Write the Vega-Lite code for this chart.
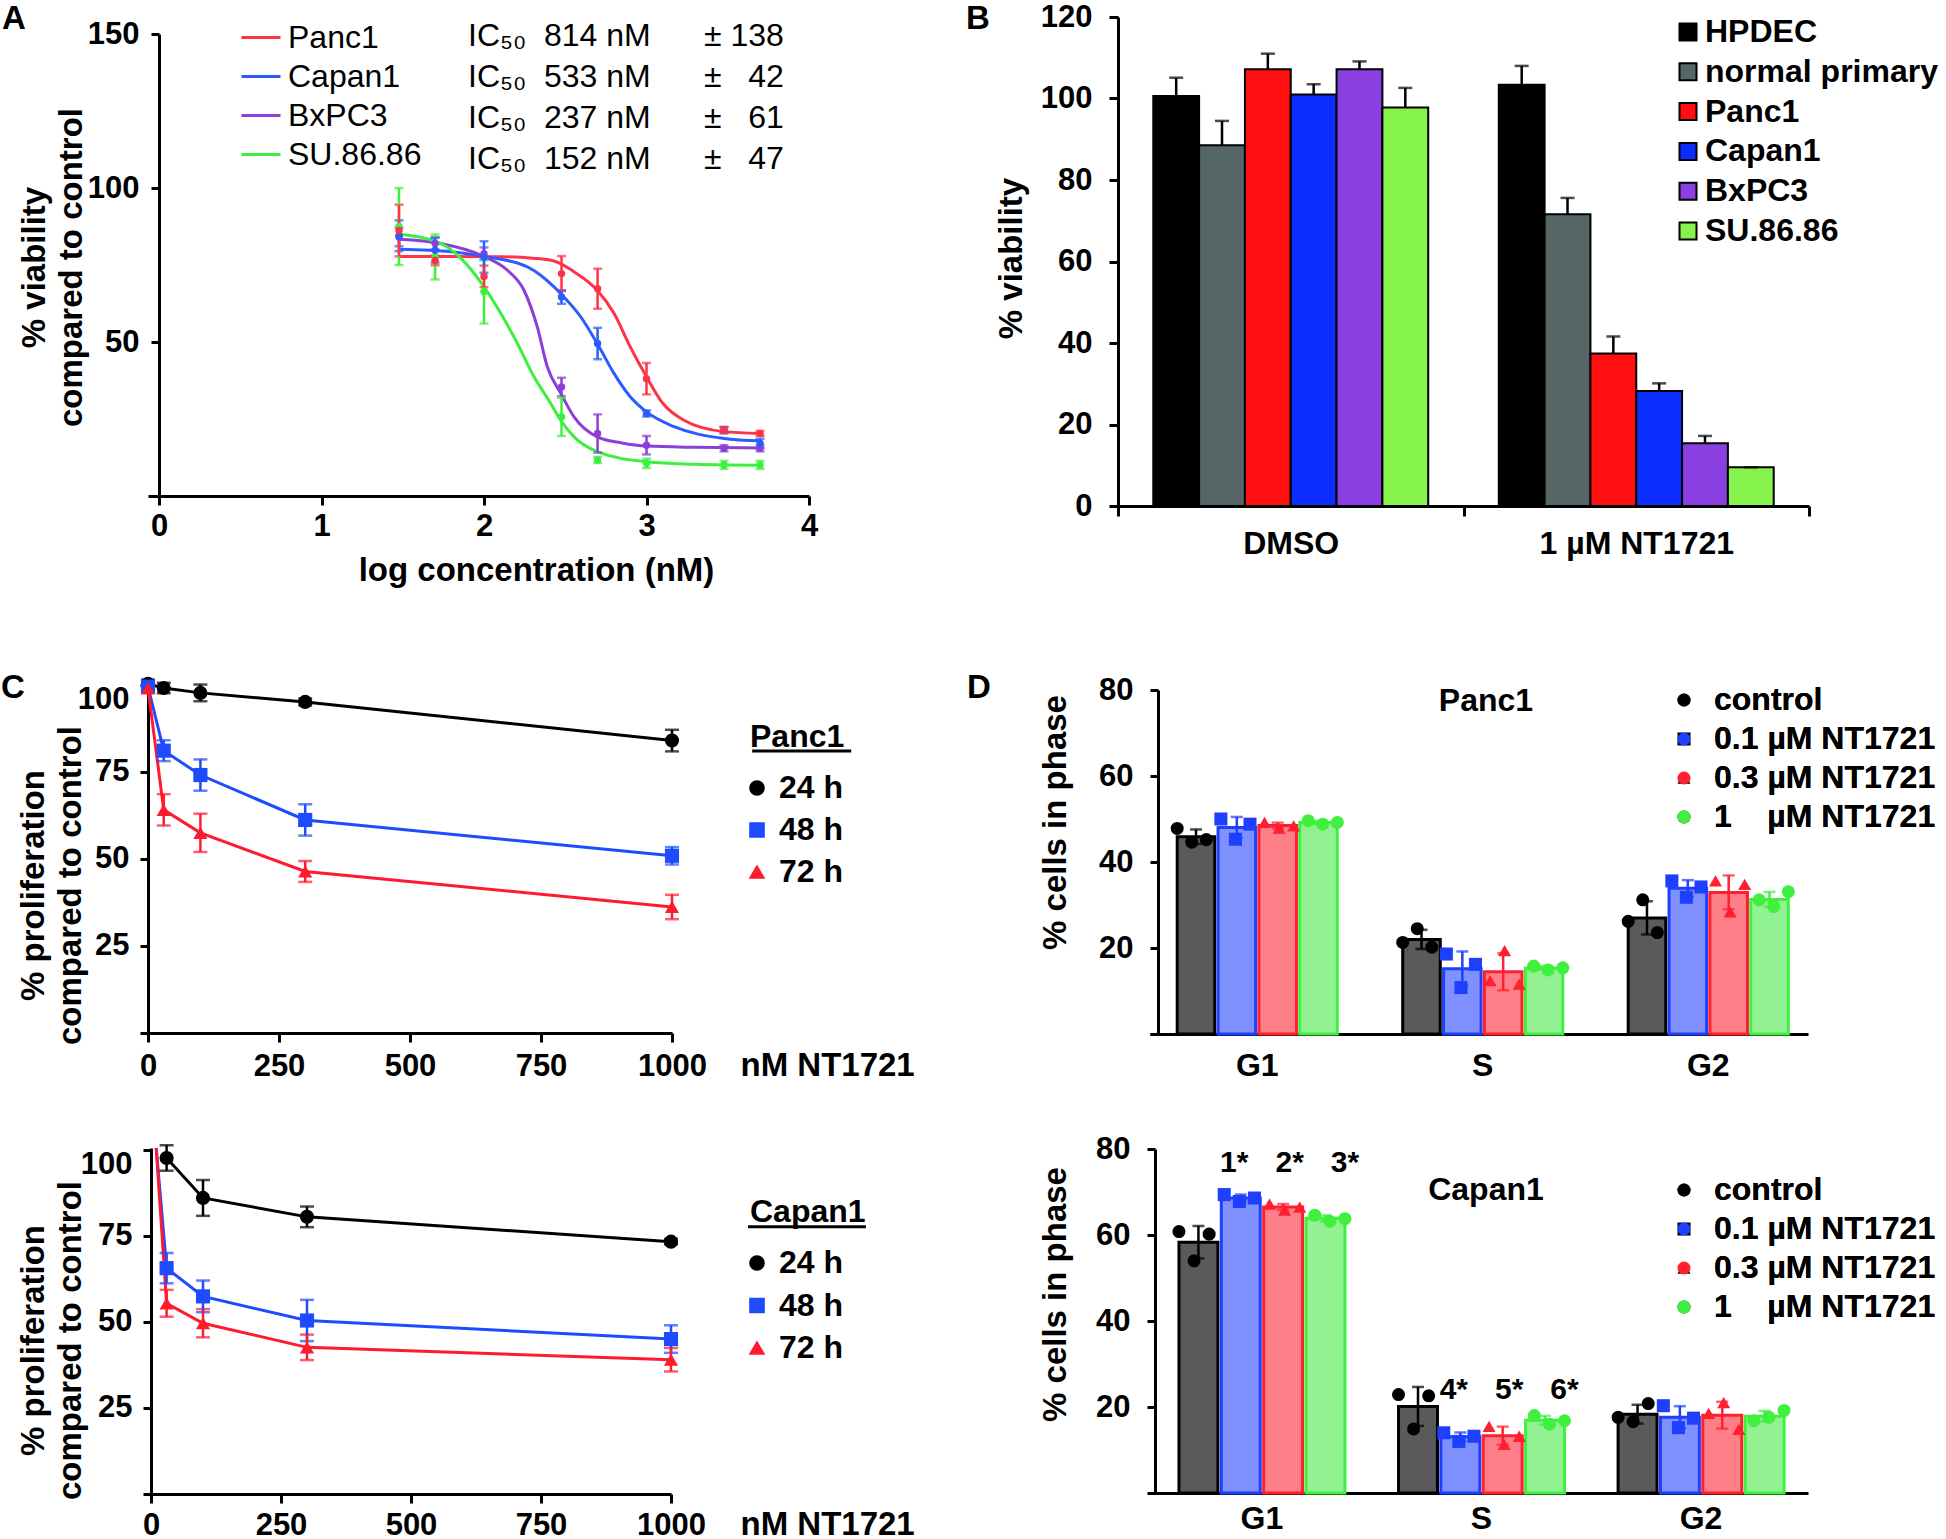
{
"$schema":"https://vega.github.io/schema/vega-lite/v6.json",
"padding":0,
"background":"white",
"columns":4,
"align":"each",
"bounds":"flush",
"spacing":0,
"config":{
 "font":"Liberation Sans",
 "view":{"stroke":null},
 "axis":{"labelFontSize":31,"labelFontWeight":"bold","labelColor":"black","titleFontSize":33,"titleFontWeight":"bold","titleColor":"black","domainColor":"black","domainWidth":3,"tickColor":"black","tickWidth":3,"tickSize":9,"grid":false,"labelOverlap":false,"labelFlush":false,"labelLimit":400},
 "legend":{"labelFontSize":32,"labelFontWeight":"bold","labelColor":"black","titleFontSize":32,"titleFontWeight":"bold","titleColor":"black","padding":0,"labelLimit":500},
 "title":{"fontSize":33,"fontWeight":"bold","color":"black"}
},
"resolve":{"scale":{"color":"independent","shape":"independent","opacity":"independent","fill":"independent","stroke":"independent","xOffset":"independent"}},
"concat":[
 {"width":148,"height":17,"data":{"values":[]},"mark":"point","encoding":{}},
 {"width":10,"height":17,"data":{"values":[]},"mark":"point","encoding":{}},
 {"width":309,"height":17,"data":{"values":[]},"mark":"point","encoding":{}},
 {"width":10,"height":17,"data":{"values":[]},"mark":"point","encoding":{}},

 {"width":148,"height":489,"title":{"text":"A","anchor":"start","frame":"group","dx":2,"offset":-44.5,"baseline":"alphabetic"},"data":{"values":[]},"mark":"point","encoding":{}},
 {"width":661,"height":479,
  "layer":[
   {"data":{"values":[
    {"s":"Panc1","x":1.477,"y":77.8},{"s":"Panc1","x":1.8,"y":77.8},{"s":"Panc1","x":2.1,"y":77.7},{"s":"Panc1","x":2.3,"y":77.2},{"s":"Panc1","x":2.431,"y":76.3},{"s":"Panc1","x":2.554,"y":72.8},{"s":"Panc1","x":2.697,"y":66.8},{"s":"Panc1","x":2.8,"y":59.3},{"s":"Panc1","x":2.9,"y":48.4},{"s":"Panc1","x":3.0,"y":38.7},{"s":"Panc1","x":3.1,"y":30.1},{"s":"Panc1","x":3.23,"y":24.6},{"s":"Panc1","x":3.477,"y":20.9},{"s":"Panc1","x":3.699,"y":20.3},
    {"s":"Capan1","x":1.477,"y":80.1},{"s":"Capan1","x":1.8,"y":79.3},{"s":"Capan1","x":2.0,"y":77.8},{"s":"Capan1","x":2.267,"y":74.4},{"s":"Capan1","x":2.431,"y":67.9},{"s":"Capan1","x":2.472,"y":65.7},{"s":"Capan1","x":2.595,"y":58.2},{"s":"Capan1","x":2.697,"y":49.5},{"s":"Capan1","x":2.8,"y":39.8},{"s":"Capan1","x":2.9,"y":32.2},{"s":"Capan1","x":3.0,"y":27.3},{"s":"Capan1","x":3.17,"y":22.5},{"s":"Capan1","x":3.477,"y":18.7},{"s":"Capan1","x":3.699,"y":17.9},
    {"s":"BxPC3","x":1.477,"y":83.4},{"s":"BxPC3","x":1.733,"y":82},{"s":"BxPC3","x":2.0,"y":77.8},{"s":"BxPC3","x":2.144,"y":73.3},{"s":"BxPC3","x":2.246,"y":66.8},{"s":"BxPC3","x":2.328,"y":54.9},{"s":"BxPC3","x":2.39,"y":41.9},{"s":"BxPC3","x":2.472,"y":33.4},{"s":"BxPC3","x":2.554,"y":25.7},{"s":"BxPC3","x":2.697,"y":19.2},{"s":"BxPC3","x":2.85,"y":17.2},{"s":"BxPC3","x":3.0,"y":16.2},{"s":"BxPC3","x":3.3,"y":15.8},{"s":"BxPC3","x":3.699,"y":15.6},
    {"s":"SU.86.86","x":1.477,"y":85},{"s":"SU.86.86","x":1.733,"y":82},{"s":"SU.86.86","x":1.87,"y":76.5},{"s":"SU.86.86","x":2.0,"y":67.9},{"s":"SU.86.86","x":2.103,"y":59.3},{"s":"SU.86.86","x":2.205,"y":49.6},{"s":"SU.86.86","x":2.308,"y":38.7},{"s":"SU.86.86","x":2.41,"y":30.1},{"s":"SU.86.86","x":2.472,"y":24.6},{"s":"SU.86.86","x":2.554,"y":19.2},{"s":"SU.86.86","x":2.697,"y":14.4},{"s":"SU.86.86","x":3.0,"y":11.1},{"s":"SU.86.86","x":3.3,"y":10.3},{"s":"SU.86.86","x":3.699,"y":10}
   ]},
   "mark":{"type":"line","interpolate":"monotone","strokeWidth":3},
   "encoding":{
    "x":{"field":"x","type":"quantitative","scale":{"domain":[-0.0677,4],"nice":false,"zero":false},
     "axis":{"values":[0,1,2,3,4],"format":"d","tickSize":9,"labelPadding":6,"title":"log concentration (nM)","titleX":388,"titleY":74,"titleBaseline":"middle"}},
    "y":{"field":"y","type":"quantitative","scale":{"domain":[0,150],"range":[479,17],"nice":false},
     "axis":{"values":[0,50,100,150],"labelExpr":"datum.value === 0 ? '' : datum.label","offset":-11,"tickSize":8,"labelPadding":12,"title":["% viability","compared to control"],"titleX":-125,"titleY":250,"titleBaseline":"middle","titleLineHeight":37}},
    "color":{"field":"s","type":"nominal","scale":{"domain":["Panc1","Capan1","BxPC3","SU.86.86"],"range":["#ff3347","#2b5cff","#8b3fd9","#3ef03e"]},
     "legend":{"orient":"none","legendX":92,"legendY":-0.5,"title":null,"symbolType":"stroke","symbolStrokeWidth":3,"symbolSize":1521,"labelOffset":6,"rowPadding":2,"labelFontWeight":"normal","labelFontSize":32}}
   }},
   {"data":{"values":[
    {"s":"SU.86.86","x":1.477,"y":87.5,"e":12.5},{"s":"SU.86.86","x":1.699,"y":77.6,"e":7.3},{"s":"SU.86.86","x":2.0,"y":66.3,"e":10.3},{"s":"SU.86.86","x":2.477,"y":25.7,"e":6.2},{"s":"SU.86.86","x":2.699,"y":11.7,"e":1},{"s":"SU.86.86","x":3.0,"y":10.6,"e":1.5},{"s":"SU.86.86","x":3.477,"y":10.1,"e":1.3},{"s":"SU.86.86","x":3.699,"y":10.1,"e":1.3},
    {"s":"BxPC3","x":1.477,"y":84.1,"e":3},{"s":"BxPC3","x":1.699,"y":82,"e":2},{"s":"BxPC3","x":2.0,"y":78.7,"e":2},{"s":"BxPC3","x":2.477,"y":35.4,"e":3},{"s":"BxPC3","x":2.699,"y":20.3,"e":6.2},{"s":"BxPC3","x":3.0,"y":16.5,"e":3},{"s":"BxPC3","x":3.477,"y":15.5,"e":1},{"s":"BxPC3","x":3.699,"y":15.5,"e":1},
    {"s":"Capan1","x":1.477,"y":84.5,"e":5},{"s":"Capan1","x":1.699,"y":79.8,"e":4},{"s":"Capan1","x":2.0,"y":77.6,"e":5.1},{"s":"Capan1","x":2.477,"y":64.6,"e":2.2},{"s":"Capan1","x":2.699,"y":49.5,"e":5.1},{"s":"Capan1","x":3.0,"y":26.8,"e":1},{"s":"Capan1","x":3.477,"y":21.4,"e":1},{"s":"Capan1","x":3.699,"y":17.1,"e":1.5},
    {"s":"Panc1","x":1.477,"y":86.2,"e":8.4},{"s":"Panc1","x":1.699,"y":76.5,"e":1.6},{"s":"Panc1","x":2.0,"y":71.3,"e":3.5},{"s":"Panc1","x":2.477,"y":72.2,"e":5.7},{"s":"Panc1","x":2.699,"y":67.3,"e":6.5},{"s":"Panc1","x":3.0,"y":38.1,"e":5.1},{"s":"Panc1","x":3.477,"y":21.4,"e":1},{"s":"Panc1","x":3.699,"y":20.3,"e":0.8}
   ]},
   "layer":[
    {"mark":{"type":"errorbar","ticks":true,"size":9,"thickness":2.5},
     "encoding":{"x":{"field":"x","type":"quantitative"},"y":{"field":"y","type":"quantitative","title":["% viability","compared to control"]},"yError":{"field":"e"},"color":{"field":"s","type":"nominal","legend":null}}},
    {"mark":{"type":"point","filled":true,"size":55,"opacity":1},
     "encoding":{"x":{"field":"x","type":"quantitative"},"y":{"field":"y","type":"quantitative"},"color":{"field":"s","type":"nominal","legend":null}}}
   ]},
   {"data":{"values":[{"lab":"IC₅₀\u00a0\u00a0814 nM\u00a0\u00a0\u00a0\u00a0\u00a0\u00a0±\u00a0138"},{"lab":"IC₅₀\u00a0\u00a0533 nM\u00a0\u00a0\u00a0\u00a0\u00a0\u00a0±\u00a0\u00a0\u00a042"},{"lab":"IC₅₀\u00a0\u00a0237 nM\u00a0\u00a0\u00a0\u00a0\u00a0\u00a0±\u00a0\u00a0\u00a061"},{"lab":"IC₅₀\u00a0\u00a0152 nM\u00a0\u00a0\u00a0\u00a0\u00a0\u00a0±\u00a0\u00a0\u00a047"}]},
    "mark":{"type":"point","filled":true,"opacity":0},
    "encoding":{"x":{"datum":2},"y":{"datum":75},
     "fill":{"field":"lab","type":"nominal","scale":{"domain":["IC₅₀\u00a0\u00a0814 nM\u00a0\u00a0\u00a0\u00a0\u00a0\u00a0±\u00a0138","IC₅₀\u00a0\u00a0533 nM\u00a0\u00a0\u00a0\u00a0\u00a0\u00a0±\u00a0\u00a0\u00a042","IC₅₀\u00a0\u00a0237 nM\u00a0\u00a0\u00a0\u00a0\u00a0\u00a0±\u00a0\u00a0\u00a061","IC₅₀\u00a0\u00a0152 nM\u00a0\u00a0\u00a0\u00a0\u00a0\u00a0±\u00a0\u00a0\u00a047"],"range":["#ffffff","#ffffff","#ffffff","#ffffff"]},
      "legend":{"orient":"none","legendX":288,"legendY":2.5,"title":null,"symbolSize":1,"symbolOpacity":0,"symbolStrokeWidth":0,"labelOffset":0,"rowPadding":9,"labelFontWeight":"normal","labelFontSize":32}}}}
  ]},
 {"width":309,"height":489,"title":{"text":"B","anchor":"start","frame":"group","dx":157,"offset":-44.5,"baseline":"alphabetic"},"data":{"values":[]},"mark":"point","encoding":{}},
 {"width":691,"height":489,
  "data":{"values":[
   {"g":"DMSO","c":"HPDEC","v":100.6,"hi":105.1},{"g":"DMSO","c":"normal primary","v":88.5,"hi":94.5},{"g":"DMSO","c":"Panc1","v":107.2,"hi":111.0},{"g":"DMSO","c":"Capan1","v":101.0,"hi":103.5},{"g":"DMSO","c":"BxPC3","v":107.2,"hi":109.1},{"g":"DMSO","c":"SU.86.86","v":97.8,"hi":102.6},
   {"g":"1 µM NT1721","c":"HPDEC","v":103.4,"hi":108.0},{"g":"1 µM NT1721","c":"normal primary","v":71.6,"hi":75.6},{"g":"1 µM NT1721","c":"Panc1","v":37.4,"hi":41.6},{"g":"1 µM NT1721","c":"Capan1","v":28.2,"hi":30.1},{"g":"1 µM NT1721","c":"BxPC3","v":15.4,"hi":17.2},{"g":"1 µM NT1721","c":"SU.86.86","v":9.5,"hi":9.5}
  ]},
  "layer":[
   {"mark":{"type":"bar","stroke":"black","strokeWidth":2},
    "encoding":{
     "x":{"field":"g","type":"nominal","sort":["DMSO","1 µM NT1721"],"scale":{"paddingInner":0,"paddingOuter":0},"axis":{"title":null,"labelAngle":0,"tickBand":"extent","tickSize":10,"labelPadding":12.5,"labelFontSize":32}},
     "xOffset":{"field":"c","type":"nominal","scale":{"domain":["HPDEC","normal primary","Panc1","Capan1","BxPC3","SU.86.86"],"paddingInner":0,"paddingOuter":0.77}},
     "y":{"field":"v","type":"quantitative","stack":null,"scale":{"domain":[0,120],"nice":false},"axis":{"values":[0,20,40,60,80,100,120],"tickSize":9,"labelPadding":17,"title":"% viability","titleX":-107,"titleY":241,"titleBaseline":"middle"}},
     "color":{"field":"c","type":"nominal","scale":{"domain":["HPDEC","normal primary","Panc1","Capan1","BxPC3","SU.86.86"],"range":["#000000","#566565","#ff0f0f","#0b2dff","#8a40e0","#86f24c"]},
      "legend":{"orient":"none","legendX":554,"legendY":-1,"title":null,"symbolType":"square","symbolSize":289,"symbolStrokeColor":"black","symbolStrokeWidth":2,"labelOffset":1,"rowPadding":7.8,"labelFontSize":32}}
    }},
   {"mark":{"type":"rule","color":"black","strokeWidth":2.5},
    "encoding":{"x":{"field":"g","type":"nominal","sort":["DMSO","1 µM NT1721"]},"xOffset":{"field":"c","type":"nominal"},"y":{"field":"v","type":"quantitative"},"y2":{"field":"hi"}}},
   {"mark":{"type":"tick","color":"black","thickness":2.5,"size":14},
    "encoding":{"x":{"field":"g","type":"nominal","sort":["DMSO","1 µM NT1721"]},"xOffset":{"field":"c","type":"nominal"},"y":{"field":"hi","type":"quantitative"}}}
  ]},

 {"width":10,"height":174,"data":{"values":[]},"mark":"point","encoding":{}},
 {"width":10,"height":174,"data":{"values":[]},"mark":"point","encoding":{}},
 {"width":10,"height":174,"data":{"values":[]},"mark":"point","encoding":{}},
 {"width":10,"height":174,"data":{"values":[]},"mark":"point","encoding":{}},

 {"width":148,"height":354,"title":{"text":"C","anchor":"start","frame":"group","dx":1,"offset":-50.5,"baseline":"alphabetic"},"data":{"values":[]},"mark":"point","encoding":{}},
 {"width":524,"height":353,
  "data":{"values":[
   {"t":"24 h","x":0,"y":100.3,"e":1.2},{"t":"24 h","x":30,"y":99.1,"e":1.5},{"t":"24 h","x":100,"y":97.7,"e":2.4},{"t":"24 h","x":300,"y":95.1,"e":1.0},{"t":"24 h","x":1000,"y":84.0,"e":3.1},
   {"t":"48 h","x":0,"y":99.5,"e":1.5},{"t":"48 h","x":30,"y":81.1,"e":3.0},{"t":"48 h","x":100,"y":74.1,"e":4.5},{"t":"48 h","x":300,"y":61.2,"e":4.5},{"t":"48 h","x":1000,"y":50.9,"e":2.5},
   {"t":"72 h","x":0,"y":99.0,"e":0.8},{"t":"72 h","x":30,"y":64.1,"e":4.5},{"t":"72 h","x":100,"y":57.5,"e":5.5},{"t":"72 h","x":300,"y":46.4,"e":3.0},{"t":"72 h","x":1000,"y":36.2,"e":3.5}
  ]},
  "layer":[
   {"mark":{"type":"line","strokeWidth":3},
    "encoding":{
     "x":{"field":"x","type":"quantitative","scale":{"domain":[0,1000],"nice":false},"axis":{"values":[0,250,500,750,1000],"format":"d","tickSize":9,"labelPadding":9.5,"title":"nM NT1721","titleX":592,"titleY":32,"titleAlign":"left","titleBaseline":"middle"}},
     "y":{"field":"y","type":"quantitative","scale":{"domain":[0,101.4],"nice":false},"axis":{"values":[0,25,50,75,100],"labelExpr":"datum.value === 0 ? '' : datum.label","labelFlush":10,"tickSize":8,"labelPadding":11,"title":["% proliferation","compared to control"],"titleX":-114.5,"titleY":205,"titleBaseline":"middle","titleLineHeight":37}},
     "color":{"field":"t","type":"nominal","scale":{"domain":["24 h","48 h","72 h"],"range":["#000000","#1f4bff","#ff1a2e"]},"legend":{"orient":"none","legendX":602,"legendY":41.5,"title":"Panc1","titlePadding":18.5,"symbolSize":200,"symbolOffset":-9,"labelOffset":6,"rowPadding":10}}
    }},
   {"mark":{"type":"errorbar","ticks":true,"size":14,"thickness":2.5},
    "encoding":{"x":{"field":"x","type":"quantitative"},"y":{"field":"y","type":"quantitative","title":["% proliferation","compared to control"]},"yError":{"field":"e"},"color":{"field":"t","type":"nominal","legend":null}}},
   {"mark":{"type":"point","filled":true,"size":200,"opacity":1},
    "encoding":{"x":{"field":"x","type":"quantitative"},"y":{"field":"y","type":"quantitative"},
     "color":{"field":"t","type":"nominal","legend":{"orient":"none","legendX":602,"legendY":41.5,"title":"Panc1","titlePadding":18.5,"symbolSize":200,"symbolOffset":-9,"labelOffset":6,"rowPadding":10}},
     "shape":{"field":"t","type":"nominal","scale":{"domain":["24 h","48 h","72 h"],"range":["circle","square","triangle-up"]},"legend":{"orient":"none","legendX":602,"legendY":41.5,"title":"Panc1","titlePadding":18.5,"symbolSize":200,"symbolOffset":-9,"labelOffset":6,"rowPadding":10}}}},
   {"data":{"values":[{}]},"mark":{"type":"rule","strokeWidth":3,"color":"black"},
    "encoding":{"x":{"datum":1153},"x2":{"datum":1342},"y":{"datum":81}}}
  ]},
 {"width":309,"height":354,"title":{"text":"D","anchor":"start","frame":"group","dx":158,"offset":-50.5,"baseline":"alphabetic"},"data":{"values":[]},"mark":"point","encoding":{}},
 {"width":690,"height":354,
  "title":{"text":"Panc1","anchor":"middle","frame":"group","dx":23,"offset":-68.5,"fontSize":32,"baseline":"alphabetic"},
  "data":{"values":[
   {"p":"G1","t":"t0","k":"t0a","v":47.8},{"p":"G1","t":"t0","k":"t0b","v":45.2},{"p":"G1","t":"t0","k":"t0c","v":44.6},
   {"p":"G1","t":"t1","k":"t1a","v":50.0},{"p":"G1","t":"t1","k":"t1b","v":48.8},{"p":"G1","t":"t1","k":"t1c","v":45.3},
   {"p":"G1","t":"t2","k":"t2a","v":49.2},{"p":"G1","t":"t2","k":"t2b","v":48.4},{"p":"G1","t":"t2","k":"t2c","v":47.9},
   {"p":"G1","t":"t3","k":"t3a","v":49.6},{"p":"G1","t":"t3","k":"t3b","v":49.2},{"p":"G1","t":"t3","k":"t3c","v":48.8},
   {"p":"S","t":"t0","k":"t0a","v":21.3},{"p":"S","t":"t0","k":"t0b","v":20.2},{"p":"S","t":"t0","k":"t0c","v":24.5},
   {"p":"S","t":"t1","k":"t1a","v":18.6},{"p":"S","t":"t1","k":"t1b","v":16.2},{"p":"S","t":"t1","k":"t1c","v":10.8},
   {"p":"S","t":"t2","k":"t2a","v":12.4},{"p":"S","t":"t2","k":"t2b","v":11.6},{"p":"S","t":"t2","k":"t2c","v":19.4},
   {"p":"S","t":"t3","k":"t3a","v":15.8},{"p":"S","t":"t3","k":"t3b","v":15.4},{"p":"S","t":"t3","k":"t3c","v":14.9},
   {"p":"G2","t":"t0","k":"t0a","v":26.2},{"p":"G2","t":"t0","k":"t0b","v":23.6},{"p":"G2","t":"t0","k":"t0c","v":31.2},
   {"p":"G2","t":"t1","k":"t1a","v":35.6},{"p":"G2","t":"t1","k":"t1b","v":34.2},{"p":"G2","t":"t1","k":"t1c","v":31.8},
   {"p":"G2","t":"t2","k":"t2a","v":35.6},{"p":"G2","t":"t2","k":"t2b","v":34.8},{"p":"G2","t":"t2","k":"t2c","v":28.4},
   {"p":"G2","t":"t3","k":"t3a","v":31.2},{"p":"G2","t":"t3","k":"t3b","v":33.1},{"p":"G2","t":"t3","k":"t3c","v":29.6}
  ]},
  "resolve":{"scale":{"xOffset":"independent","color":"independent"}},
  "layer":[
   {"mark":{"type":"bar"},
    "encoding":{
     "x":{"field":"p","type":"nominal","sort":["G1","S","G2"],"scale":{"range":[32,690],"paddingInner":0.29,"paddingOuter":0.104,"align":0.58},"axis":{"title":null,"labelAngle":0,"tickSize":0,"labelPadding":16.5,"labelFontSize":32}},
     "xOffset":{"field":"t","type":"nominal","scale":{"domain":["t0","t1","t2","t3"],"paddingInner":0.08,"paddingOuter":0}},
     "y":{"aggregate":"mean","field":"v","type":"quantitative","stack":null,"scale":{"domain":[0,80],"range":[354,10],"nice":false},"axis":{"values":[0,20,40,60,80],"labelExpr":"datum.value === 0 ? '' : datum.label","offset":-40,"tickSize":8,"labelPadding":17,"title":"% cells in phase","titleX":-103,"titleY":142,"titleBaseline":"middle"}},
     "color":{"field":"t","type":"nominal","scale":{"domain":["t0","t1","t2","t3"],"range":["#5a5a5a","#7f90ff","#ff7f88","#92f292"]},"legend":null}
    }},
   {"mark":{"type":"bar","filled":false,"strokeWidth":3},
    "encoding":{
     "x":{"field":"p","type":"nominal","sort":["G1","S","G2"]},
     "xOffset":{"field":"t","type":"nominal","scale":{"domain":["t0","t1","t2","t3"],"paddingInner":0.08,"paddingOuter":0}},
     "y":{"aggregate":"mean","field":"v","type":"quantitative","stack":null,"title":"% cells in phase"},
     "color":{"field":"t","type":"nominal","scale":{"domain":["t0","t1","t2","t3"],"range":["#000000","#1f3fff","#ff1f2f","#3ff03f"]},"legend":null}
    }},
   {"mark":{"type":"point","filled":true,"size":170,"opacity":1},
    "encoding":{"x":{"field":"p","type":"nominal","sort":["G1","S","G2"]},
     "xOffset":{"field":"k","type":"nominal","scale":{"domain":["t0a","t0c","t0b","t1a","t1c","t1b","t2a","t2c","t2b","t3a","t3c","t3b"],"paddingInner":0,"paddingOuter":0}},
     "y":{"field":"v","type":"quantitative","title":"% cells in phase"},
     "color":{"field":"t","type":"nominal","scale":{"domain":["t0","t1","t2","t3"],"range":["#000000","#1f3fff","#ff1f2f","#3ff03f"]},
      "legend":{"orient":"none","legendX":550,"legendY":4,"title":null,"symbolSize":170,"labelOffset":14,"rowPadding":7,"labelExpr":"datum.label === 't0' ? 'control' : datum.label === 't1' ? '0.1 µM NT1721' : datum.label === 't2' ? '0.3 µM NT1721' : '1\u00a0\u00a0\u00a0\u00a0µM NT1721'"}},
     "shape":{"field":"t","type":"nominal","scale":{"domain":["t0","t1","t2","t3"],"range":["circle","square","triangle-up","circle"]},
      "legend":{"orient":"none","legendX":550,"legendY":4,"title":null,"symbolSize":170,"labelOffset":14,"rowPadding":7,"labelExpr":"datum.label === 't0' ? 'control' : datum.label === 't1' ? '0.1 µM NT1721' : datum.label === 't2' ? '0.3 µM NT1721' : '1\u00a0\u00a0\u00a0\u00a0µM NT1721'"}}}},
   {"mark":{"type":"errorbar","extent":"stdev","ticks":true,"size":12,"thickness":2.5},
    "encoding":{"x":{"field":"p","type":"nominal","sort":["G1","S","G2"]},"xOffset":{"field":"t","type":"nominal","scale":{"domain":["t0","t1","t2","t3"],"paddingInner":0.08,"paddingOuter":0}},"y":{"field":"v","type":"quantitative","title":"% cells in phase"},
     "color":{"field":"t","type":"nominal","scale":{"domain":["t0","t1","t2","t3"],"range":["#000000","#1f3fff","#ff1f2f","#3ff03f"]},"legend":null}}}
  ]},

 {"width":10,"height":114,"data":{"values":[]},"mark":"point","encoding":{}},
 {"width":10,"height":114,"data":{"values":[]},"mark":"point","encoding":{}},
 {"width":10,"height":114,"data":{"values":[]},"mark":"point","encoding":{}},
 {"width":10,"height":114,"data":{"values":[]},"mark":"point","encoding":{}},

 {"width":148,"height":346,"data":{"values":[]},"mark":"point","encoding":{}},
 {"width":523,"height":346,
  "layer":[
   {"data":{"values":[
    {"t":"24 h","x":30,"y":97.6},{"t":"24 h","x":100,"y":86},{"t":"24 h","x":300,"y":80.5},{"t":"24 h","x":1000,"y":73.3},
    {"t":"48 h","x":10,"y":100.5},{"t":"48 h","x":30,"y":65.6},{"t":"48 h","x":100,"y":57.4},{"t":"48 h","x":300,"y":50.4},{"t":"48 h","x":1000,"y":45},
    {"t":"72 h","x":10,"y":100.5},{"t":"72 h","x":30,"y":55.4},{"t":"72 h","x":100,"y":49.6},{"t":"72 h","x":300,"y":42.6},{"t":"72 h","x":1000,"y":39}
   ]},
    "mark":{"type":"line","strokeWidth":3},
    "encoding":{
     "x":{"field":"x","type":"quantitative","scale":{"domain":[-5.77,1000],"nice":false,"zero":false},"axis":{"values":[0,250,500,750,1000],"format":"d","tickSize":9,"labelPadding":7.5,"title":"nM NT1721","titleX":592,"titleY":30,"titleAlign":"left","titleBaseline":"middle"}},
     "y":{"field":"y","type":"quantitative","scale":{"domain":[0,100.5],"nice":false},"axis":{"values":[0,25,50,75,100],"labelExpr":"datum.value === 0 ? '' : datum.label","labelFlush":10,"offset":-3,"tickSize":8,"labelPadding":11,"title":["% proliferation","compared to control"],"titleX":-117.5,"titleY":192,"titleBaseline":"middle","titleLineHeight":37}},
     "color":{"field":"t","type":"nominal","scale":{"domain":["24 h","48 h","72 h"],"range":["#000000","#1f4bff","#ff1a2e"]},"legend":{"orient":"none","legendX":602,"legendY":48.5,"title":"Capan1","titlePadding":18.5,"symbolSize":200,"symbolOffset":-9,"labelOffset":6,"rowPadding":10.5}}
    }},
   {"data":{"values":[
    {"t":"24 h","x":30,"y":97.6,"e":3.7},{"t":"24 h","x":100,"y":86,"e":5.2},{"t":"24 h","x":300,"y":80.5,"e":3},{"t":"24 h","x":1000,"y":73.3,"e":0.8},
    {"t":"48 h","x":30,"y":65.6,"e":4.4},{"t":"48 h","x":100,"y":57.4,"e":4.6},{"t":"48 h","x":300,"y":50.4,"e":6},{"t":"48 h","x":1000,"y":45,"e":4},
    {"t":"72 h","x":30,"y":55.4,"e":3.9},{"t":"72 h","x":100,"y":49.6,"e":4.1},{"t":"72 h","x":300,"y":42.6,"e":3.7},{"t":"72 h","x":1000,"y":39,"e":3.4}
   ]},
    "layer":[
     {"mark":{"type":"errorbar","ticks":true,"size":14,"thickness":2.5},
      "encoding":{"x":{"field":"x","type":"quantitative"},"y":{"field":"y","type":"quantitative","title":["% proliferation","compared to control"]},"yError":{"field":"e"},"color":{"field":"t","type":"nominal","legend":null}}},
     {"mark":{"type":"point","filled":true,"size":200,"opacity":1},
      "encoding":{"x":{"field":"x","type":"quantitative"},"y":{"field":"y","type":"quantitative"},
       "color":{"field":"t","type":"nominal","legend":{"orient":"none","legendX":602,"legendY":48.5,"title":"Capan1","titlePadding":18.5,"symbolSize":200,"symbolOffset":-9,"labelOffset":6,"rowPadding":10.5}},
       "shape":{"field":"t","type":"nominal","scale":{"domain":["24 h","48 h","72 h"],"range":["circle","square","triangle-up"]},"legend":{"orient":"none","legendX":602,"legendY":48.5,"title":"Capan1","titlePadding":18.5,"symbolSize":200,"symbolOffset":-9,"labelOffset":6,"rowPadding":10.5}}}}
    ]},
   {"data":{"values":[{}]},"mark":{"type":"rule","strokeWidth":3,"color":"black"},
    "encoding":{"x":{"datum":1148},"x2":{"datum":1375},"y":{"datum":77.6}}}
  ]},
 {"width":309,"height":345,"data":{"values":[]},"mark":"point","encoding":{}},
 {"width":690,"height":345,
  "title":{"text":"Capan1","anchor":"middle","frame":"group","dx":23,"offset":-98.5,"fontSize":32,"baseline":"alphabetic"},
  "data":{"values":[
   {"p":"G1","t":"t0","k":"t0a","v":60.8},{"p":"G1","t":"t0","k":"t0b","v":60.2},{"p":"G1","t":"t0","k":"t0c","v":54.0},
   {"p":"G1","t":"t1","k":"t1a","v":69.4},{"p":"G1","t":"t1","k":"t1b","v":68.6},{"p":"G1","t":"t1","k":"t1c","v":67.8},
   {"p":"G1","t":"t2","k":"t2a","v":67.2},{"p":"G1","t":"t2","k":"t2b","v":66.5},{"p":"G1","t":"t2","k":"t2c","v":65.8},
   {"p":"G1","t":"t3","k":"t3a","v":64.6},{"p":"G1","t":"t3","k":"t3b","v":63.8},{"p":"G1","t":"t3","k":"t3c","v":63.2},
   {"p":"S","t":"t0","k":"t0a","v":22.9},{"p":"S","t":"t0","k":"t0b","v":22.6},{"p":"S","t":"t0","k":"t0c","v":14.9},
   {"p":"S","t":"t1","k":"t1a","v":14.0},{"p":"S","t":"t1","k":"t1b","v":13.2},{"p":"S","t":"t1","k":"t1c","v":12.0},
   {"p":"S","t":"t2","k":"t2a","v":15.5},{"p":"S","t":"t2","k":"t2b","v":13.2},{"p":"S","t":"t2","k":"t2c","v":11.3},
   {"p":"S","t":"t3","k":"t3a","v":18.0},{"p":"S","t":"t3","k":"t3b","v":16.8},{"p":"S","t":"t3","k":"t3c","v":16.0},
   {"p":"G2","t":"t0","k":"t0a","v":17.6},{"p":"G2","t":"t0","k":"t0b","v":20.8},{"p":"G2","t":"t0","k":"t0c","v":16.6},
   {"p":"G2","t":"t1","k":"t1a","v":20.3},{"p":"G2","t":"t1","k":"t1b","v":17.4},{"p":"G2","t":"t1","k":"t1c","v":15.2},
   {"p":"G2","t":"t2","k":"t2a","v":18.5},{"p":"G2","t":"t2","k":"t2b","v":14.8},{"p":"G2","t":"t2","k":"t2c","v":21.0},
   {"p":"G2","t":"t3","k":"t3a","v":16.8},{"p":"G2","t":"t3","k":"t3b","v":19.2},{"p":"G2","t":"t3","k":"t3c","v":17.6}
  ]},
  "resolve":{"scale":{"xOffset":"independent","color":"independent"}},
  "layer":[
   {"mark":{"type":"bar"},
    "encoding":{
     "x":{"field":"p","type":"nominal","sort":["G1","S","G2"],"scale":{"range":[30,690],"paddingInner":0.244,"paddingOuter":0.125,"align":0.564},"axis":{"title":null,"labelAngle":0,"tickSize":0,"labelPadding":10.5,"labelFontSize":32}},
     "xOffset":{"field":"t","type":"nominal","scale":{"domain":["t0","t1","t2","t3"],"paddingInner":0.08,"paddingOuter":0}},
     "y":{"aggregate":"mean","field":"v","type":"quantitative","stack":null,"scale":{"domain":[0,80],"range":[345,1],"nice":false},"axis":{"values":[0,20,40,60,80],"labelExpr":"datum.value === 0 ? '' : datum.label","offset":-37,"tickSize":8,"labelPadding":17,"title":"% cells in phase","titleX":-100,"titleY":146,"titleBaseline":"middle"}},
     "color":{"field":"t","type":"nominal","scale":{"domain":["t0","t1","t2","t3"],"range":["#5a5a5a","#7f90ff","#ff7f88","#92f292"]},"legend":null}
    }},
   {"mark":{"type":"bar","filled":false,"strokeWidth":3},
    "encoding":{
     "x":{"field":"p","type":"nominal","sort":["G1","S","G2"]},
     "xOffset":{"field":"t","type":"nominal","scale":{"domain":["t0","t1","t2","t3"],"paddingInner":0.08,"paddingOuter":0}},
     "y":{"aggregate":"mean","field":"v","type":"quantitative","stack":null,"title":"% cells in phase"},
     "color":{"field":"t","type":"nominal","scale":{"domain":["t0","t1","t2","t3"],"range":["#000000","#1f3fff","#ff1f2f","#3ff03f"]},"legend":null}
    }},
   {"mark":{"type":"point","filled":true,"size":170,"opacity":1},
    "encoding":{"x":{"field":"p","type":"nominal","sort":["G1","S","G2"]},
     "xOffset":{"field":"k","type":"nominal","scale":{"domain":["t0a","t0c","t0b","t1a","t1c","t1b","t2a","t2c","t2b","t3a","t3c","t3b"],"paddingInner":0,"paddingOuter":0}},
     "y":{"field":"v","type":"quantitative","title":"% cells in phase"},
     "color":{"field":"t","type":"nominal","scale":{"domain":["t0","t1","t2","t3"],"range":["#000000","#1f3fff","#ff1f2f","#3ff03f"]},
      "legend":{"orient":"none","legendX":550,"legendY":26,"title":null,"symbolSize":170,"labelOffset":14,"rowPadding":7,"labelExpr":"datum.label === 't0' ? 'control' : datum.label === 't1' ? '0.1 µM NT1721' : datum.label === 't2' ? '0.3 µM NT1721' : '1\u00a0\u00a0\u00a0\u00a0µM NT1721'"}},
     "shape":{"field":"t","type":"nominal","scale":{"domain":["t0","t1","t2","t3"],"range":["circle","square","triangle-up","circle"]},
      "legend":{"orient":"none","legendX":550,"legendY":26,"title":null,"symbolSize":170,"labelOffset":14,"rowPadding":7,"labelExpr":"datum.label === 't0' ? 'control' : datum.label === 't1' ? '0.1 µM NT1721' : datum.label === 't2' ? '0.3 µM NT1721' : '1\u00a0\u00a0\u00a0\u00a0µM NT1721'"}}}},
   {"mark":{"type":"errorbar","extent":"stdev","ticks":true,"size":12,"thickness":2.5},
    "encoding":{"x":{"field":"p","type":"nominal","sort":["G1","S","G2"]},"xOffset":{"field":"t","type":"nominal","scale":{"domain":["t0","t1","t2","t3"],"paddingInner":0.08,"paddingOuter":0}},"y":{"field":"v","type":"quantitative","title":"% cells in phase"},
     "color":{"field":"t","type":"nominal","scale":{"domain":["t0","t1","t2","t3"],"range":["#000000","#1f3fff","#ff1f2f","#3ff03f"]},"legend":null}}},
   {"data":{"values":[{"p":"G1","t":"t1","l":"1*"},{"p":"G1","t":"t2","l":"2*"},{"p":"G1","t":"t3","l":"3*"}]},
    "mark":{"type":"text","fontSize":30,"fontWeight":"bold","baseline":"middle","align":"center","color":"black"},
    "encoding":{"x":{"field":"p","type":"nominal","sort":["G1","S","G2"]},"xOffset":{"field":"t","type":"nominal","scale":{"domain":["t0","t1","t2","t3"],"paddingInner":0.08,"paddingOuter":0}},"y":{"datum":76.7},"text":{"field":"l"}}},
   {"data":{"values":[{"p":"S","t":"t1","l":"4*"},{"p":"S","t":"t2","l":"5*"},{"p":"S","t":"t3","l":"6*"}]},
    "mark":{"type":"text","fontSize":30,"fontWeight":"bold","baseline":"middle","align":"center","color":"black"},
    "encoding":{"x":{"field":"p","type":"nominal","sort":["G1","S","G2"]},"xOffset":{"field":"t","type":"nominal","scale":{"domain":["t0","t1","t2","t3"],"paddingInner":0.08,"paddingOuter":0}},"y":{"datum":24},"text":{"field":"l"}}}
  ]}
]
}
